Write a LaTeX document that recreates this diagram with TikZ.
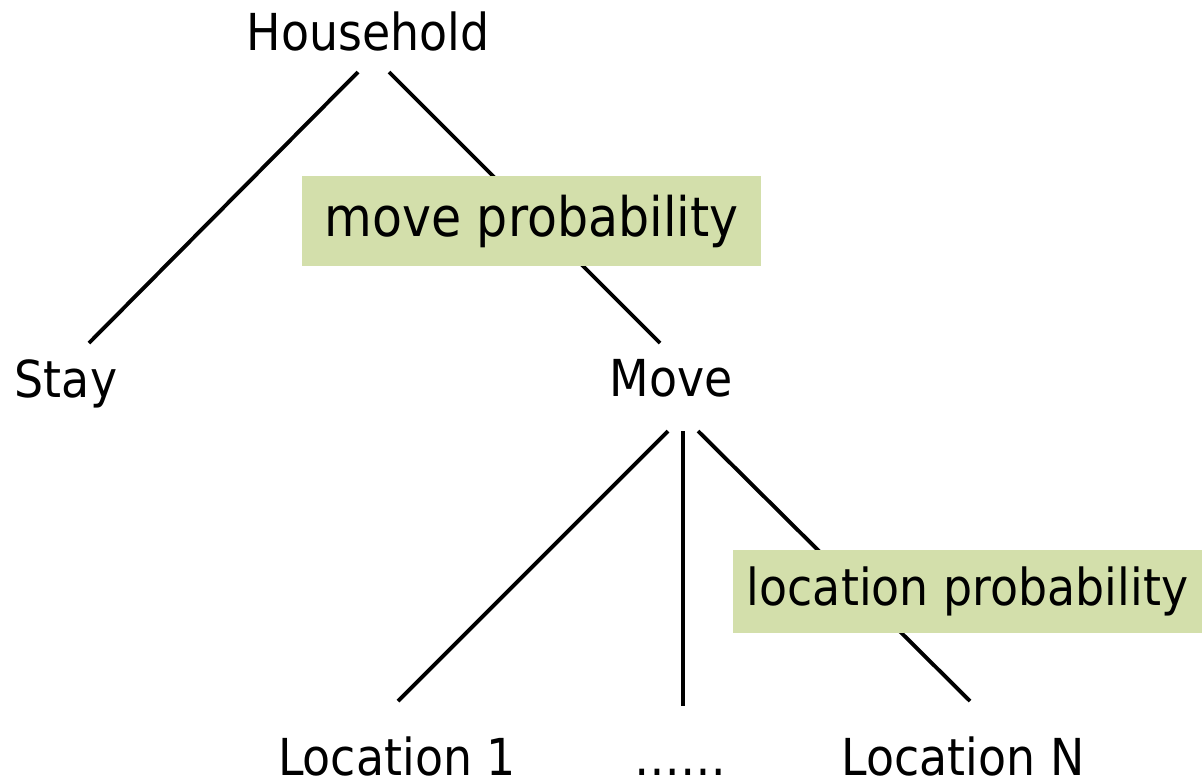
\documentclass[tikz,border=0pt]{standalone}
\usepackage{fontspec}
\setmainfont{DejaVu Sans}[FakeStretch=0.9]
\usepackage{tikz}

\definecolor{probgreen}{RGB}{211,223,171}

\begin{document}
\begin{tikzpicture}[x=0.02cm, y=-0.02cm,
  word/.style={anchor=base, inner sep=0pt, font=\fontsize{29}{34}\selectfont},
  probbox/.style={fill=probgreen, inner sep=0pt, font=\fontsize{29}{34}\selectfont},
  branch/.style={line width=2.2pt}]
\useasboundingbox (0,0) rectangle (1202,779);

% choice levels
\node[word] (household) at (368,50) {Household};
\node[word] (stay) at (66,397) {Stay};
\node[word] (move) at (671,396) {Move};
\node[word] (loc1) at (397,775) {Location 1};
\node[word] (dots) at (680,775) {\dots\dots};
\node[word] (locN) at (963,775) {Location N};

% end points of the branches
\coordinate (hhL) at (358,72);
\coordinate (hhR) at (389,72);
\coordinate (stayT) at (89,343);
\coordinate (moveT) at (660,343);
\coordinate (mvL) at (668,431);
\coordinate (mvC) at (683,431);
\coordinate (mvR) at (698,431);
\coordinate (loc1T) at (398,701);
\coordinate (dotsT) at (683,706);
\coordinate (locNT) at (970,701);

\draw[branch] (hhL) -- (stayT);
\draw[branch] (hhR) -- (moveT);
\draw[branch] (mvL) -- (loc1T);
\draw[branch] (mvC) -- (dotsT);
\draw[branch] (mvR) -- (locNT);

% probability labels on top of the branches
\node[probbox, minimum width=459*0.02cm, minimum height=90*0.02cm,
  font=\fontsize{31}{36}\selectfont] (moveprob) at (531.5,221) {move probability};
\node[probbox, minimum width=469*0.02cm, minimum height=83*0.02cm] (locprob) at (967.5,591.5) {location probability};
\end{tikzpicture}
\end{document}
